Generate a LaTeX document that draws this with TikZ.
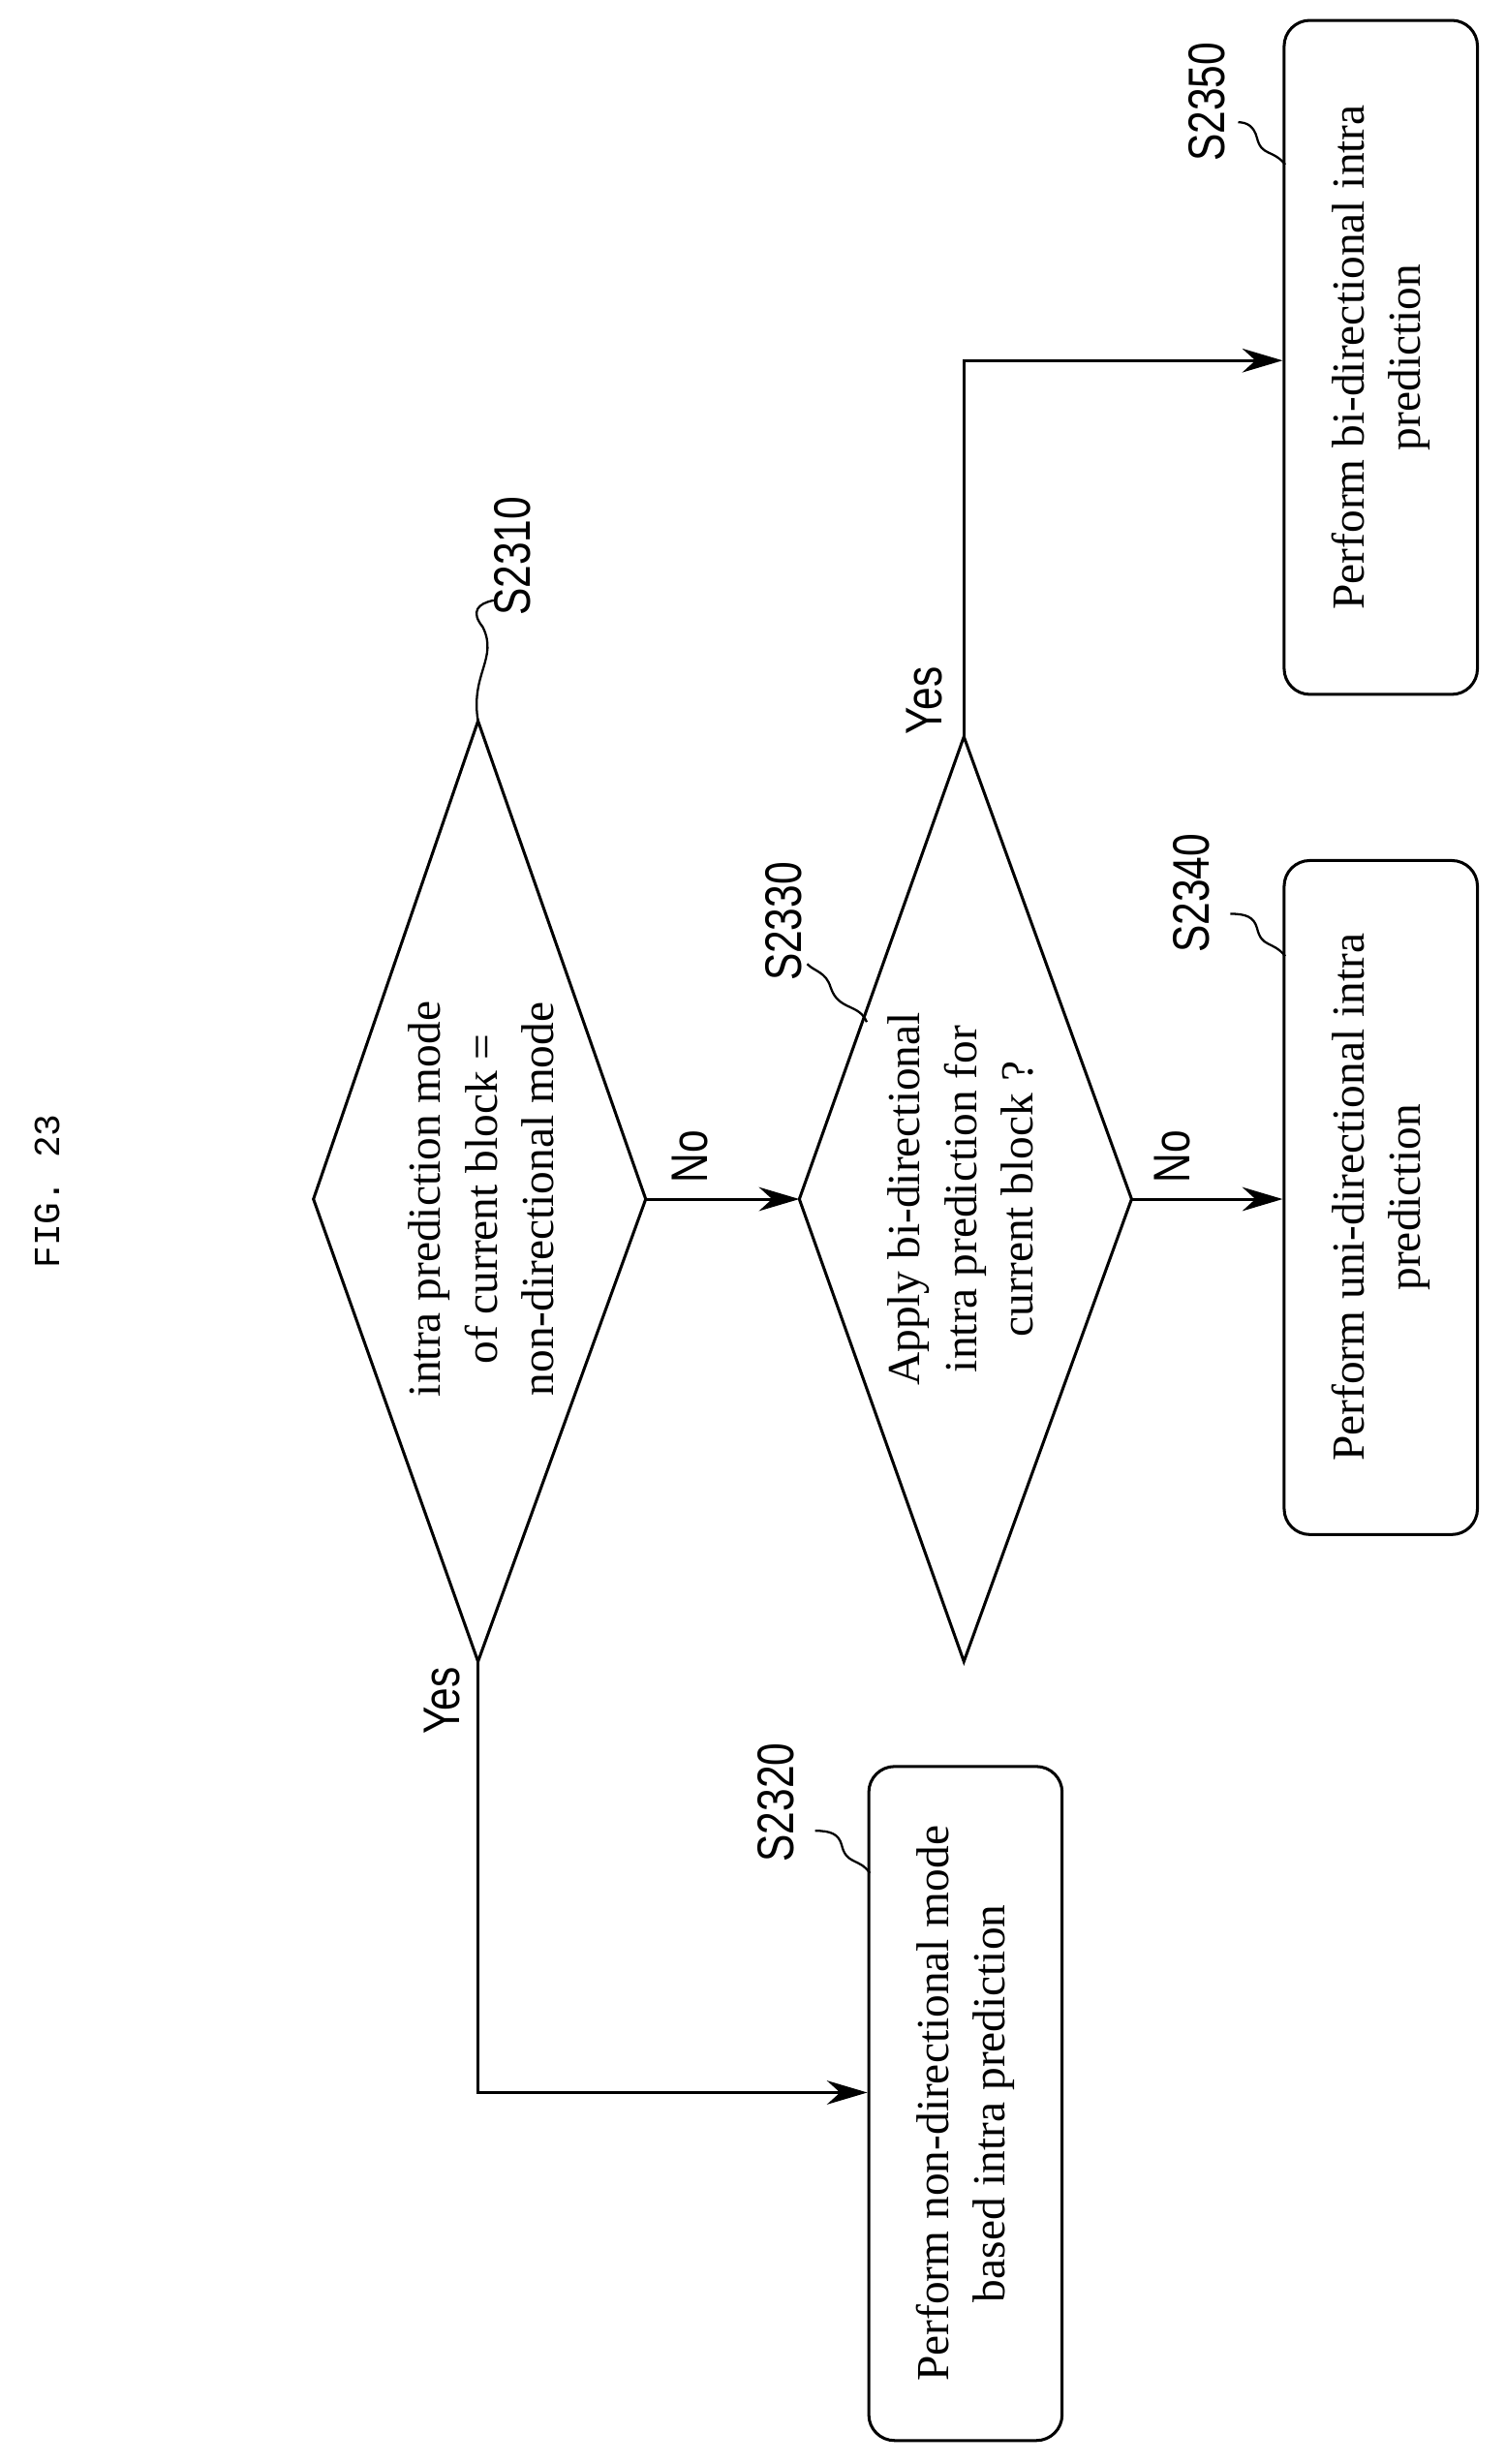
\documentclass[tikz,border=0pt]{standalone}
\usepackage{fontspec}
\setmainfont{Liberation Serif}
\newfontfamily\lblfont{Liberation Sans}
\newfontfamily\figfont{Liberation Mono}
\usetikzlibrary{arrows.meta}
\begin{document}
\begin{tikzpicture}[x=0.03cm,y=-0.03cm,line width=1.6pt,
  box/.style={draw,rounded corners=14pt,rotate=90,minimum width=12.9cm,minimum height=3.7cm,align=center,font=\fontsize{25}{31}\selectfont},
  txt/.style={rotate=90,align=center,font=\fontsize{25}{31}\selectfont},
  lbl/.style={rotate=90,font=\lblfont\fontsize{28}{30}\selectfont,xscale=0.8},
  arr/.style={-{Stealth[length=22pt,width=13pt]}},
  sq/.style={line width=1.2pt}]
\useasboundingbox (0,0) rectangle (960,1572);
\node[rotate=90,font=\figfont\fontsize{20}{22}\selectfont] (fig) at (30,760) {FIG. 23};
% diamond 1
\coordinate (d1t) at (305,460); \coordinate (d1b) at (305,1060);
\coordinate (d1l) at (200,765); \coordinate (d1r) at (412,765);
\draw (d1t) -- (d1r) -- (d1b) -- (d1l) -- cycle;
\node[txt] (t1) at (307,765) {intra prediction mode\\of current block =\\non-directional mode};
% diamond 2
\coordinate (d2t) at (615,470); \coordinate (d2b) at (615,1060);
\coordinate (d2l) at (510,765); \coordinate (d2r) at (722,765);
\draw (d2t) -- (d2r) -- (d2b) -- (d2l) -- cycle;
\node[txt] (t2) at (613,765) {Apply bi-directional\\intra prediction for\\current block ?};
% boxes
\node[box] (b50) at (881,228) {Perform bi-directional intra\\prediction};
\node[box] (b40) at (881,764) {Perform uni-directional intra\\prediction};
\node[box] (b20) at (616,1342) {Perform non-directional mode\\based intra prediction};
% connectors
\draw[arr] (d1r) -- (d2l);
\node[lbl] (no1) at (440,738) {No};
\draw[arr] (d2r) -- (d2r -| b40.north);
\node[lbl] (no2) at (748,738) {No};
\coordinate (c1) at (615,230);
\draw[arr] (d2t) -- (c1) -- (c1 -| b50.north);
\node[lbl] (yes2) at (590,447) {Yes};
\coordinate (c2) at (305,1335);
\draw[arr] (d1b) -- (c2) -- (c2 -| b20.north);
\node[lbl] (yes1) at (282,1085) {Yes};
% step labels
\node[lbl] (s10) at (327,355) {S2310};
\draw[sq] (d1t) .. controls (300,430) and (318,420) .. (308,400) .. controls (300,390) and (305,385) .. (315,383);
\node[lbl] (s30) at (500,588) {S2330};
\draw[sq] (553,652) .. controls (548,640) and (535,645) .. (530,630) .. controls (527,620) and (520,620) .. (515,615);
\node[lbl] (s50) at (770,65) {S2350};
\draw[sq] (820,105) .. controls (812,95) and (805,100) .. (802,88) .. controls (800,80) and (795,78) .. (790,78);
\node[lbl] (s40) at (760,570) {S2340};
\draw[sq] (820,610) .. controls (812,600) and (805,605) .. (802,592) .. controls (800,585) and (795,583) .. (785,583);
\node[lbl] (s20) at (495,1150) {S2320};
\draw[sq] (555,1195) .. controls (548,1185) and (540,1190) .. (537,1177) .. controls (535,1170) and (530,1168) .. (520,1168);
\end{tikzpicture}
\end{document}
